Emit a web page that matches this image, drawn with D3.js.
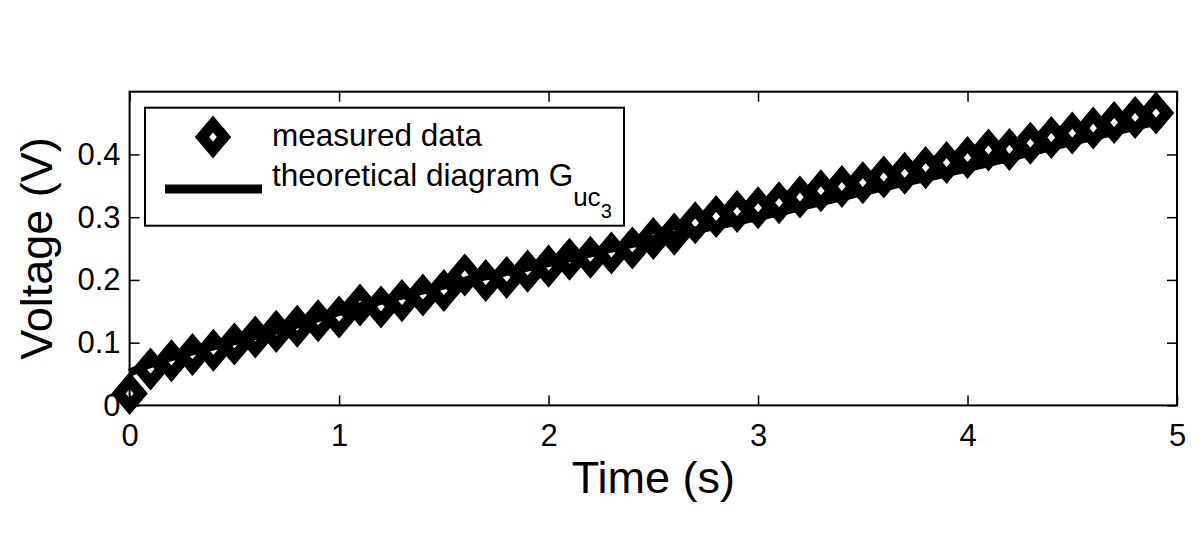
<!DOCTYPE html>
<html lang="en">
<head>
<meta charset="UTF-8"/>
<title>Voltage vs time</title>
<script src="https://cdn.jsdelivr.net/npm/d3@7"></script>
<style>
  body { margin: 0; background: #fff; }
  text { font-family: "Liberation Sans", Arial, sans-serif; fill: #000; }
</style>
</head>
<body>
<script>
// measured data, every 0.1 s
var timeMeasured = [0, 0.1, 0.2, 0.3, 0.4, 0.5, 0.6, 0.7, 0.8, 0.9,
  1.0, 1.1, 1.2, 1.3, 1.4, 1.5, 1.6, 1.7, 1.8, 1.9,
  2.0, 2.1, 2.2, 2.3, 2.4, 2.5, 2.6, 2.7, 2.8, 2.9,
  3.0, 3.1, 3.2, 3.3, 3.4, 3.5, 3.6, 3.7, 3.8, 3.9,
  4.0, 4.1, 4.2, 4.3, 4.4, 4.5, 4.6, 4.7, 4.8, 4.9];
var voltMeasured = [0.019, 0.058, 0.071, 0.081, 0.088, 0.098, 0.109, 0.118, 0.126, 0.135,
  0.141, 0.160, 0.157, 0.167, 0.176, 0.183, 0.208, 0.199, 0.204, 0.214,
  0.222, 0.233, 0.236, 0.243, 0.251, 0.266, 0.273, 0.291, 0.301, 0.309,
  0.315, 0.323, 0.332, 0.342, 0.349, 0.355, 0.364, 0.370, 0.379, 0.387,
  0.395, 0.407, 0.408, 0.418, 0.427, 0.434, 0.442, 0.451, 0.459, 0.466];

// theoretical curve G_uc3
var timeTheory = [0, 0.1, 0.2, 0.3, 0.5, 0.75, 1.0, 1.5, 2.0, 2.5, 3.0, 3.5, 4.0, 4.5, 4.9];
var voltTheory = [0.052, 0.066, 0.077, 0.086, 0.102, 0.124, 0.149, 0.191, 0.227, 0.265, 0.300, 0.340, 0.378, 0.420, 0.452];

var xTicks = [0, 1, 2, 3, 4, 5];
var yTicks = [0, 0.1, 0.2, 0.3, 0.4];

var w = 1200, h = 534;
var plotL = 129.6, plotR = 1177, plotT = 91.7, plotB = 405.4;

var svg = d3.select("body").append("svg")
  .attr("width", w)
  .attr("height", h);

var xScale = d3.scaleLinear().domain([0, 5]).range([plotL, plotR]);
var yScale = d3.scaleLinear().domain([0, 0.5]).range([plotB, plotT]);

// markers
var measured = timeMeasured.map(function(t, i) { return [t, voltMeasured[i]]; });
var diamond = "M0,-13L11,0L0,13L-11,0Z";

svg.append("g").selectAll("path")
  .data(measured)
  .enter()
  .append("path")
  .attr("d", diamond)
  .attr("transform", function(d) { return "translate(" + xScale(d[0]) + "," + yScale(d[1]) + ")"; })
  .attr("fill", "none")
  .attr("stroke", "#000")
  .attr("stroke-width", 11)
  .attr("stroke-linejoin", "miter");

// theoretical line
var theory = timeTheory.map(function(t, i) { return [t, voltTheory[i]]; });
var line = d3.line()
  .x(function(d) { return xScale(d[0]); })
  .y(function(d) { return yScale(d[1]); })
  .curve(d3.curveMonotoneX);

svg.append("path")
  .datum(theory)
  .attr("d", line)
  .attr("fill", "none")
  .attr("stroke", "#000")
  .attr("stroke-width", 8);

// axes, ticks inside like matlab
var xAxis = d3.axisBottom(xScale).tickValues(xTicks).tickSize(-10).tickPadding(0)
  .tickFormat(d3.format("d"));
var yAxis = d3.axisLeft(yScale).tickValues(yTicks).tickSize(-10).tickPadding(9)
  .tickFormat(function(d) { return d === 0 ? "0" : d3.format(".1f")(d); });
var xTop = d3.axisTop(xScale).tickValues(xTicks).tickSize(-10).tickFormat("");
var yRight = d3.axisRight(yScale).tickValues(yTicks).tickSize(-10).tickFormat("");

var gx = svg.append("g")
  .attr("transform", "translate(0," + plotB + ")")
  .call(xAxis);
gx.selectAll("text").attr("y", 41).attr("dy", 0);

var gy = svg.append("g")
  .attr("transform", "translate(" + plotL + ",0)")
  .call(yAxis);

svg.append("g").attr("transform", "translate(0," + plotT + ")").call(xTop);
svg.append("g").attr("transform", "translate(" + plotR + ",0)").call(yRight);

svg.selectAll(".domain").remove();
svg.selectAll(".tick line").attr("stroke", "#000").attr("stroke-width", 1.5);
svg.selectAll(".tick text")
  .attr("font-family", "'Liberation Sans', Arial, sans-serif")
  .attr("font-size", 31)
  .attr("fill", "#000");

svg.append("rect")
  .attr("x", plotL)
  .attr("y", plotT)
  .attr("width", plotR - plotL)
  .attr("height", plotB - plotT)
  .attr("fill", "none")
  .attr("stroke", "#000")
  .attr("stroke-width", 2);

// axis titles
svg.append("text")
  .attr("x", (plotL + plotR) / 2)
  .attr("y", 493)
  .attr("text-anchor", "middle")
  .attr("font-size", 45)
  .text("Time (s)");

svg.append("text")
  .attr("transform", "translate(52," + ((plotT + plotB) / 2) + ") rotate(-90)")
  .attr("text-anchor", "middle")
  .attr("font-size", 45)
  .text("Voltage (V)");

// legend
var legend = svg.append("g");
legend.append("rect")
  .attr("x", 145)
  .attr("y", 107.7)
  .attr("width", 479)
  .attr("height", 118)
  .attr("fill", "#fff")
  .attr("stroke", "#000")
  .attr("stroke-width", 2);

legend.append("path")
  .attr("d", diamond)
  .attr("transform", "translate(213,137)")
  .attr("fill", "none")
  .attr("stroke", "#000")
  .attr("stroke-width", 11);

legend.append("line")
  .attr("x1", 165)
  .attr("x2", 262)
  .attr("y1", 189)
  .attr("y2", 189)
  .attr("stroke", "#000")
  .attr("stroke-width", 9);

legend.append("text")
  .attr("x", 272)
  .attr("y", 146)
  .attr("font-size", 31.5)
  .text("measured data");

var t2 = legend.append("text")
  .attr("x", 272)
  .attr("y", 186)
  .attr("font-size", 31.5);
t2.append("tspan").text("theoretical diagram G");
t2.append("tspan").attr("font-size", 26).attr("dy", 20).text("uc");
t2.append("tspan").attr("font-size", 20).attr("dy", 12).text("3");
</script>
</body>
</html>
